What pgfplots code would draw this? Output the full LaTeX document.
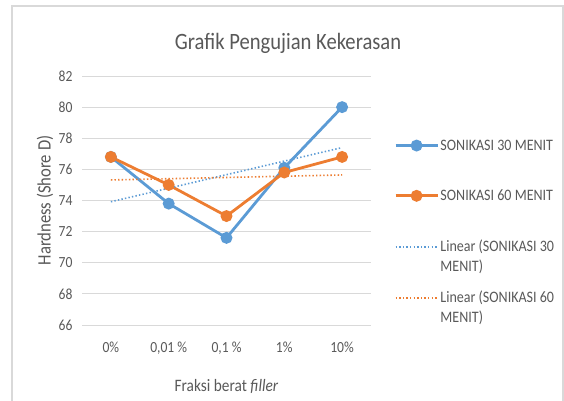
\documentclass[border=0pt]{standalone}
\usepackage{pgfplots}
\pgfplotsset{compat=1.18}
\usepackage{fontspec}
\setmainfont{Carlito}[FakeStretch=0.88]
\definecolor{cblue}{HTML}{5B9BD5}
\definecolor{corange}{HTML}{ED7D31}
\definecolor{ctext}{HTML}{595959}
\definecolor{cgrid}{HTML}{D9D9D9}
\newcommand{\twoline}[2]{\raisebox{0pt}[\height][0pt]{\vtop{\hbox{#1}\hbox{#2}}}}
\begin{document}
\begin{tikzpicture}
\useasboundingbox (0bp,0bp) rectangle (564bp,401bp);
\fill[white] (0bp,0bp) rectangle (564bp,401bp);
\draw[cgrid, line width=1.2bp] (12bp,0bp) -- (12bp,395bp) -- (563bp,395bp) -- (563bp,0bp);
\node[text=ctext, font=\fontsize{23.5}{26}\selectfont] at (288bp,358bp) {Grafik Pengujian Kekerasan};
\begin{axis}[
  at={(82bp,76bp)}, anchor=south west, scale only axis,
  width=289bp, height=249bp,
  xmin=-0.5, xmax=4.5, ymin=66, ymax=82,
  ytick={66,68,...,82},
  xtick={0,1,2,3,4},
  xticklabels={0\%, {0,01 \%}, {0,1 \%}, 1\%, 10\%},
  axis line style={draw=none},
  major tick length=0pt,
  ymajorgrids, grid style={cgrid, line width=0.9bp},
  /pgf/number format/assume math mode=true,
  tick label style={text=ctext, font=\fontsize{15.5}{17}\selectfont},
  yticklabel style={xshift=-6bp},
  xticklabel style={yshift=-13bp},
  ylabel={Hardness (Shore D)},
  ylabel style={at={(axis description cs:-0.128,0.5)}, anchor=center, text=ctext, font=\fontsize{19}{21}\selectfont},
  xlabel={Fraksi berat \textit{filler}},
  xlabel style={at={(axis description cs:0.5,0)}, yshift=-61bp, anchor=center, text=ctext, font=\fontsize{17.5}{19}\selectfont},
  legend cell align=left,
  legend style={at={(1,1)}, anchor=north west, xshift=23bp, yshift=-62bp,
    draw=none, fill=none, inner sep=0pt, column sep=0pt,
    font=\fontsize{16}{20}\selectfont, row sep=35bp,
    cells={anchor=base west},
    nodes={text=ctext, inner sep=1.5bp}},
  legend image code/.code={\draw[mark repeat=2,mark phase=2] plot coordinates {(0bp,4.5bp) (21bp,4.5bp) (42bp,4.5bp)};},
  clip=false,
]
\addplot[cblue, line width=2.8bp, mark=*, mark size=4.5bp, mark options={solid}]
  coordinates {(0,76.8) (1,73.8) (2,71.6) (3,76.1) (4,80.0)};
\addlegendentry{SONIKASI 30 MENIT}
\addplot[corange, line width=2.8bp, mark=*, mark size=4.5bp, mark options={solid}]
  coordinates {(0,76.8) (1,75.0) (2,73.0) (3,75.8) (4,76.8)};
\addlegendentry{SONIKASI 60 MENIT}
\addplot[cblue, line width=1.6bp, dash pattern=on 1.4bp off 2.2bp]
  coordinates {(0,73.92) (4,77.40)};
\addlegendentry{\twoline{Linear (SONIKASI 30}{MENIT)}}
\addplot[corange, line width=1.6bp, dash pattern=on 1.4bp off 2.2bp]
  coordinates {(0,75.32) (4,75.64)};
\addlegendentry{\twoline{Linear (SONIKASI 60}{MENIT)}}
\end{axis}
\end{tikzpicture}
\end{document}
